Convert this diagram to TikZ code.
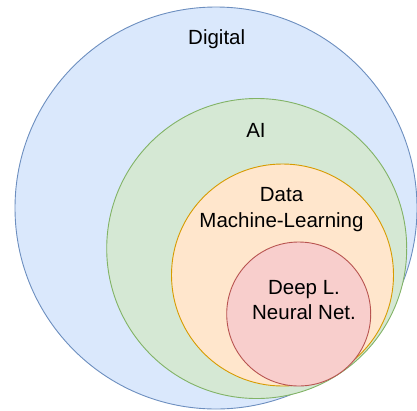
\documentclass[tikz,border=0pt]{standalone}
\usepackage{fontspec}
\setmainfont{Liberation Sans}
\definecolor{bluefill}{HTML}{DAE8FC}\definecolor{bluedraw}{HTML}{6C8EBF}
\definecolor{greenfill}{HTML}{D5E8D4}\definecolor{greendraw}{HTML}{82B366}
\definecolor{orangefill}{HTML}{FFE6CC}\definecolor{orangedraw}{HTML}{D79B00}
\definecolor{redfill}{HTML}{F8CECC}\definecolor{reddraw}{HTML}{B85450}
\begin{document}
\begin{tikzpicture}[x=1pt,y=-1pt,
  ring/.style={circle,line width=0.9pt,inner sep=0pt},
  lbl/.style={font=\fontsize{20.5}{25.3}\selectfont,align=center,inner sep=0pt}]
\useasboundingbox (0,0) rectangle (417,410);
\node[ring,fill=bluefill,draw=bluedraw,minimum size=402pt] (digital) at (216,208) {};
\node[ring,fill=greenfill,draw=greendraw,minimum size=300pt] (ai) at (256.7,248.5) {};
\node[ring,fill=orangefill,draw=orangedraw,minimum size=222pt] (data) at (282.5,275) {};
\node[ring,fill=redfill,draw=reddraw,minimum size=144pt] (deep) at (298.7,314) {};
\node[lbl] (tdigital) at (216.7,39) {Digital};
\node[lbl] (tai) at (256,130) {AI};
\node[lbl] (tdata) at (281.5,209.5) {Data\\Machine-Learning};
\node[lbl] (tdeep) at (304,300) {Deep L.\\Neural Net.};
\end{tikzpicture}
\end{document}
